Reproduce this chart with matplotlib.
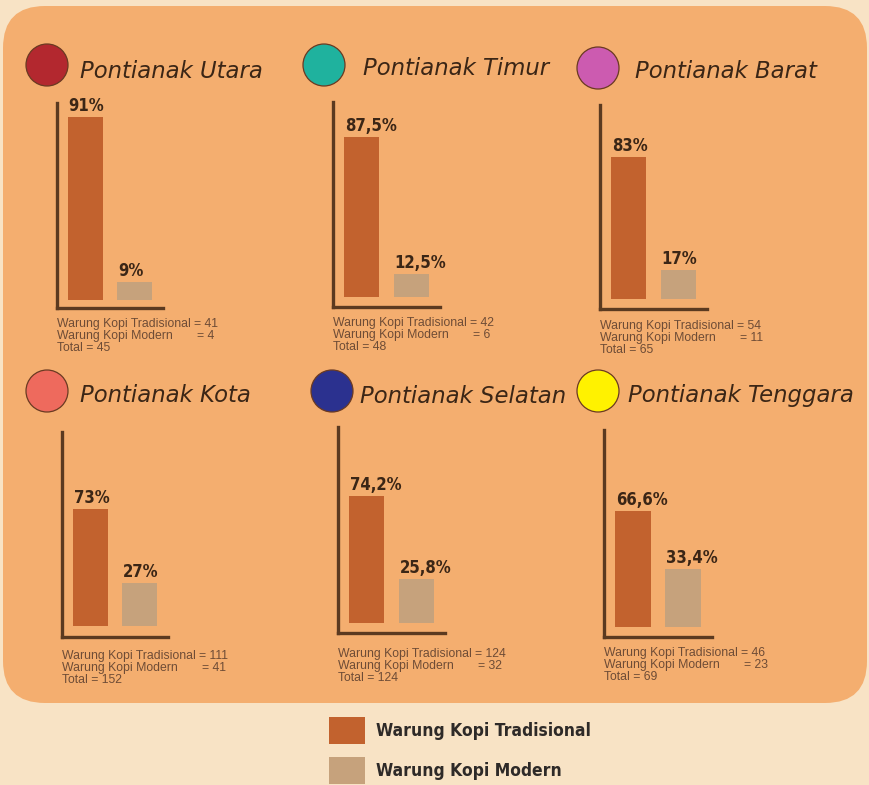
import matplotlib
matplotlib.use('Agg')
import matplotlib.pyplot as plt
from matplotlib.patches import FancyBboxPatch, Circle, Patch

# data
districts = ['Pontianak Utara', 'Pontianak Timur', 'Pontianak Barat',
             'Pontianak Kota', 'Pontianak Selatan', 'Pontianak Tenggara']
pct_trad = [91, 87.5, 83, 73, 74.2, 66.6]
pct_modern = [9, 12.5, 17, 27, 25.8, 33.4]
n_trad = [41, 42, 54, 111, 124, 46]
n_modern = [4, 6, 11, 41, 32, 23]
n_total = [45, 48, 65, 152, 124, 69]
dot_colors = ['#b3282f', '#1fb29e', '#cc5bb0', '#ee6a5d', '#2b318f', '#fff200']
series_labels = ['Warung Kopi Tradisional', 'Warung Kopi Modern']

# style
W, H = 870, 785
bg_color = '#f8e3c5'
panel_color = '#f4ae6f'
trad_color = '#c2622e'
modern_color = '#c6a27c'
spine_color = '#5b3a20'
text_dark = '#3b2616'
count_color = '#6e4c36'

# layout in pixels: spine left, spine top, spine bottom, spine right
boxes = [(57, 103, 308, 163), (333, 102, 307, 440), (600, 105, 309, 707),
         (62, 432, 637, 168), (338, 427, 633, 445), (604, 430, 637, 712)]
ylims = [(-4, 98), (-5.5, 106.6), (-5.8, 113.4), (-6.9, 121), (-5.8, 114.5), (-5.7, 113)]
title_pos = [(80, 78), (363, 75), (635, 78), (80, 402), (360, 403), (628, 402)]
dot_pos = [(47, 65), (324, 65), (598, 68), (47, 391), (332, 391), (598, 391)]
text_gap = [16, 16, 17, 19, 21, 16]

fig = plt.figure(figsize=(W / 100, H / 100), dpi=100)
fig.patch.set_facecolor(bg_color)
renderer = fig.canvas.get_renderer()

bg = fig.add_axes([0, 0, 1, 1])
bg.set_xlim(0, W)
bg.set_ylim(H, 0)
bg.axis('off')
bg.add_patch(FancyBboxPatch((3, 6), 864, 697,
                            boxstyle='round,pad=0,rounding_size=42',
                            fc=panel_color, ec='none'))

pct_font = dict(family='DejaVu Sans', stretch='condensed', weight='bold')
small = dict(fontsize=8.8, family='Liberation Sans', color=count_color,
             ha='left', va='center')

for i, name in enumerate(districts):
    cx, cy = dot_pos[i]
    bg.add_patch(Circle((cx, cy), 21, fc=dot_colors[i], ec='#6a3a22', lw=0.9))
    tx, ty = title_pos[i]
    bg.text(tx, ty, name, fontsize=16.4, family='DejaVu Sans', style='oblique',
            color=text_dark, ha='left', va='baseline')

    x0, yt, yb, x1 = boxes[i]
    ax = fig.add_axes([x0 / W, 1 - yb / H, (x1 - x0) / W, (yb - yt) / H])
    ax.patch.set_alpha(0)
    vals = [pct_trad[i], pct_modern[i]]
    xs = [0.8, 2.2]
    ax.bar(xs, vals, width=1.0, color=[trad_color, modern_color])
    ax.set_xlim(0, 3)
    ax.set_ylim(*ylims[i])
    for s in ['top', 'right']:
        ax.spines[s].set_visible(False)
    for s in ['left', 'bottom']:
        ax.spines[s].set_color(spine_color)
        ax.spines[s].set_linewidth(2.4)
        ax.spines[s].set_capstyle('projecting')
    ax.set_xticks([])
    ax.set_yticks([])

    for x, v in zip(xs, vals):
        lbl = f'{v:g}'.replace('.', ',') + '%'
        ax.annotate(lbl, xy=(x - 0.5, v), xytext=(1, 2), textcoords='offset pixels',
                    ha='left', va='bottom', fontsize=12, color=text_dark, **pct_font)

    g = text_gap[i]
    t = ax.annotate(series_labels[0], xy=(0, 0), xycoords='axes fraction',
                    xytext=(0, -g), textcoords='offset pixels', **small)
    eq_x = t.get_window_extent(renderer).width + 3
    ax.annotate(f'= {n_trad[i]}', xy=(0, 0), xycoords='axes fraction',
                xytext=(eq_x, -g), textcoords='offset pixels', **small)
    ax.annotate(series_labels[1], xy=(0, 0), xycoords='axes fraction',
                xytext=(0, -g - 12), textcoords='offset pixels', **small)
    ax.annotate(f'= {n_modern[i]}', xy=(0, 0), xycoords='axes fraction',
                xytext=(eq_x + 3, -g - 12), textcoords='offset pixels', **small)
    ax.annotate(f'Total = {n_total[i]}', xy=(0, 0), xycoords='axes fraction',
                xytext=(0, -g - 24), textcoords='offset pixels', **small)

handles = [Patch(fc=trad_color), Patch(fc=modern_color)]
fig.legend(handles, series_labels, loc='upper left',
           bbox_to_anchor=(329 / W, 1 - 717 / H), frameon=False, borderpad=0,
           borderaxespad=0, handlelength=2.05, handleheight=2.0, handletextpad=0.65,
           labelspacing=0.75, prop=dict(size=12.5, **pct_font), labelcolor='#2e2a28')

fig.savefig('out.png', dpi=100, facecolor=bg_color)
